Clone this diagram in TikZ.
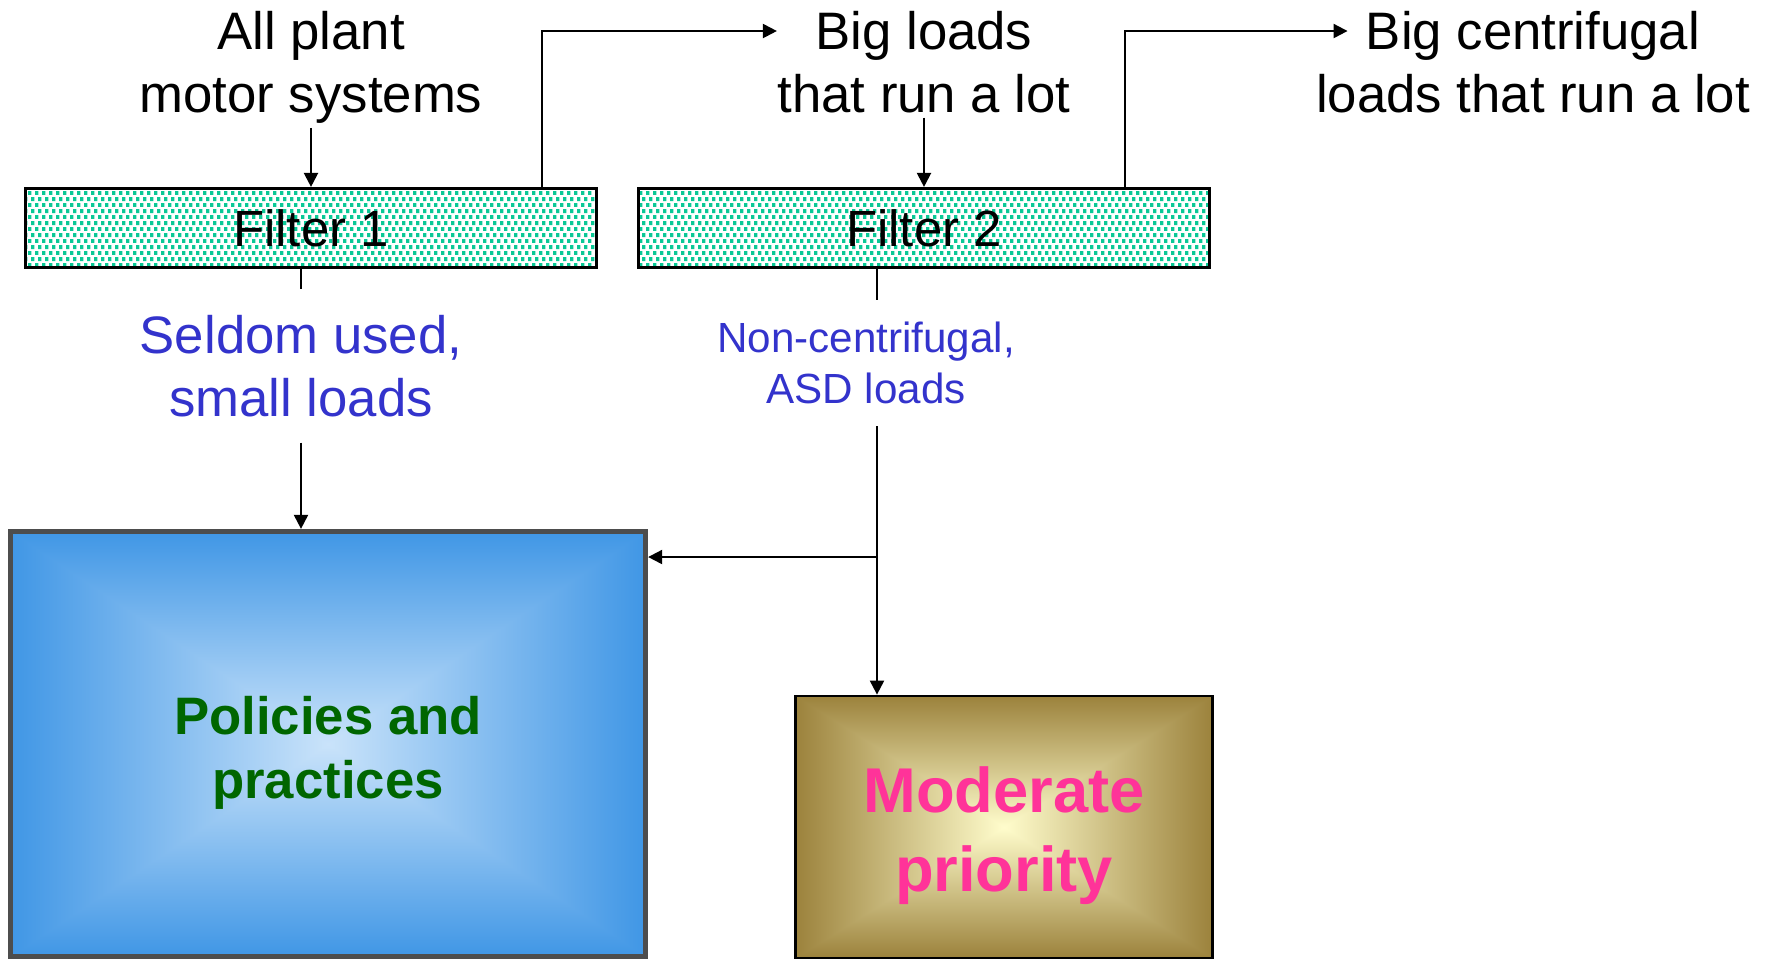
\documentclass[tikz,border=0pt]{standalone}
\usepackage{fontspec}
\setmainfont{Liberation Sans}
\usepackage{tikz}
\usetikzlibrary{arrows.meta,positioning,patterns.meta}

\definecolor{dotgreen}{RGB}{10,200,150}
\definecolor{loadblue}{RGB}{51,51,204}
\definecolor{polgreen}{RGB}{0,102,0}
\definecolor{polgray}{RGB}{77,77,77}
\definecolor{modpink}{RGB}{255,51,153}

\tikzdeclarepattern{
	name=filterdots,
	type=uncolored,
	bounding box={(0,0) and (2pt,3.4pt)},
	tile size={(2pt,3.4pt)},
	code={
		\fill (0,0) rectangle (1.1pt,1.1pt);
		\fill (1pt,1.7pt) rectangle (2.1pt,2.8pt);
	}
}

% rectangular "path" gradients, light in the middle
\pgfdeclarefunctionalshading{polshade}{\pgfpointorigin}{\pgfpoint{100bp}{100bp}}{}{
	50 sub abs 25 div exch 50 sub abs 25 div
	2 copy sub abs add add 2 div
	dup 1 sub abs neg 1 add add 2 div
	dup -0.54 mul 0.79 add
	exch dup -0.30 mul 0.89 add
	exch -0.08 mul 0.98 add
}
\pgfdeclarefunctionalshading{modshade}{\pgfpointorigin}{\pgfpoint{100bp}{100bp}}{}{
	50 sub abs 25 div exch 50 sub abs 25 div
	2 copy sub abs add add 2 div
	dup 1 sub abs neg 1 add add 2 div
	dup -0.39 mul 1.0 add
	exch dup -0.48 mul 0.99 add
	exch -0.565 mul 0.80 add
}

\tikzstyle{toptext}=[align=center,inner sep=1pt,font=\fontsize{15}{18}\selectfont]
\tikzstyle{filterbox}=[draw,line width=0.9pt,preaction={fill=white},pattern=filterdots,pattern color=dotgreen,minimum width=5.71cm,minimum height=0.79cm,font=\fontsize{14.5}{17}\selectfont]
\tikzstyle{loadtext}=[align=center,text=loadblue,inner sep=7pt,font=\fontsize{15}{18}\selectfont]
\tikzstyle{smallload}=[loadtext,inner sep=6pt,font=\fontsize{12}{14.5}\selectfont]
\tikzstyle{polbox}=[draw=polgray,line width=1.5pt,shading=polshade,minimum width=6.35cm,minimum height=4.25cm]
\tikzstyle{poltext}=[align=center,yshift=-0.09cm,text=polgreen,font=\bfseries\fontsize{15}{18.3}\selectfont]
\tikzstyle{modbox}=[draw,line width=0.8pt,shading=modshade,minimum width=4.17cm,minimum height=2.62cm]
\tikzstyle{modtext}=[align=center,yshift=-0.09cm,text=modpink,font=\bfseries\fontsize{18}{22.5}\selectfont]

\begin{document}
\begin{tikzpicture}[on grid,line width=0.6pt,>={Triangle[length=4pt,width=4pt]}]
	\useasboundingbox (0,0) rectangle (17.73,-9.60);

	\node[filterbox]	(f1) at (3.11,-2.28)	{Filter 1};
	\node[filterbox]	(f2) [right=6.13cm of f1]	{Filter 2};
	\node[toptext]		(all) [above=1.61cm of f1]	{All plant\\motor systems};
	\node[toptext]		(big) [above=1.66cm of f2]	{Big loads\\that run a lot};
	\node[toptext]		(cent) [right=6.09cm of big]	{Big centrifugal\\loads that run a lot};
	\node[loadtext]		(seldom) at (3.01,-3.66)	{Seldom used,\\small loads};
	\node[smallload]	(noncent) at (8.66,-3.63)	{Non-centrifugal,\\ASD loads};
	\node[polbox,label={[poltext]center:{Policies and\\practices}}]	(pol) at (3.28,-7.44) {};
	\node[modbox,label={[modtext]center:{Moderate\\priority}}]	(mod) at (10.04,-8.27) {};
	\coordinate (split) at (8.77,-5.57);

\path[->] (all) edge (f1)
			(big) edge (f2)
			(seldom) edge (seldom |- pol.north);
\draw[->] ([xshift=2.31cm]f1.north) |- ([xshift=0.04cm,yshift=0.31cm]big.west);
\draw[->] ([xshift=2.01cm]f2.north) |- ([xshift=0.36cm,yshift=0.31cm]cent.west);
\draw (f1.south -| seldom) -- (seldom);
\draw (f2.south -| split) -- (noncent.north -| split);
\draw[->] (noncent.south -| split) -- (mod.north -| split);
\draw[->] (split) -- (pol.east |- split);
\end{tikzpicture}
\end{document}
